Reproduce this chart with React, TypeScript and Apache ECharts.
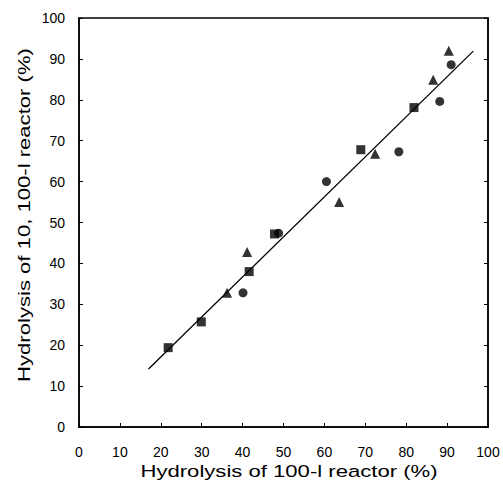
import React, { useEffect, useRef } from "react";
import * as echarts from "echarts";

const squares: number[][] = [
  [21.8, 19.4], [29.9, 25.7], [41.6, 38.0], [47.8, 47.2], [68.9, 67.8], [81.9, 78.1],
];
const triangles: number[][] = [
  [36.2, 32.8], [41.1, 42.8], [63.6, 55.0], [72.4, 66.8], [86.6, 84.9], [90.4, 92.0],
];
const circles: number[][] = [
  [40.1, 32.8], [48.8, 47.4], [60.5, 60.0], [78.2, 67.3], [88.2, 79.6], [91.0, 88.6],
];
const fitLine: number[][] = [
  [17.0, 14.2], [96.4, 91.9],
];
const xTitle = "Hydrolysis of 100-l reactor (%)";
const yTitle = "Hydrolysis of 10, 100-l reactor (%)";

const FONT = "'Liberation Sans', Arial, sans-serif";

export default function App() {
  const ref = useRef<HTMLDivElement>(null);
  useEffect(() => {
    if (!ref.current) return;
    const chart = echarts.init(ref.current, undefined, { renderer: "svg" });
    const axisCommon = {
      type: "value" as const,
      min: 0,
      max: 100,
      interval: 10,
      splitLine: { show: false },
      axisLine: { show: true, lineStyle: { color: "#000", width: 1.5 } },
      axisTick: { show: true, inside: true, length: 4, lineStyle: { color: "#000", width: 1 } },
    };
    chart.setOption({
      animation: false,
      backgroundColor: "#fff",
      grid: { left: 79, right: 15, top: 18, bottom: 54, show: true, borderColor: "#000", borderWidth: 1.5, backgroundColor: "transparent" },
      xAxis: [
        {
          ...axisCommon,
          position: "bottom",
          axisLabel: { color: "#000", fontSize: 14, fontFamily: FONT, margin: 18 },
        },
      ],
      yAxis: [
        {
          ...axisCommon,
          position: "left",
          axisLabel: { color: "#000", fontSize: 14, fontFamily: FONT, margin: 14 },
        },
        {
          ...axisCommon,
          position: "right",
          axisLabel: { show: false },
        },
      ],
      graphic: [
        {
          type: "text",
          x: 289,
          y: 471,
          scaleX: 1.3,
          style: {
            text: xTitle,
            fontSize: 17,
            fontFamily: FONT,
            fill: "#000",
            textAlign: "center",
            textVerticalAlign: "middle",
          },
        },
        {
          type: "text",
          x: 24,
          y: 215,
          rotation: Math.PI / 2,
          scaleX: 1.3,
          style: {
            text: yTitle,
            fontSize: 17,
            fontFamily: FONT,
            fill: "#000",
            textAlign: "center",
            textVerticalAlign: "middle",
          },
        },
      ],
      series: [
        {
          type: "line",
          data: fitLine,
          showSymbol: false,
          symbol: "none",
          lineStyle: { color: "#000", width: 1.3 },
          silent: true,
        },
        {
          type: "scatter",
          data: squares,
          symbol: "rect",
          symbolSize: 9,
          itemStyle: { color: "#000" },
        },
        {
          type: "scatter",
          data: triangles,
          symbol: "triangle",
          symbolSize: 10,
          itemStyle: { color: "#000" },
        },
        {
          type: "scatter",
          data: circles,
          symbol: "circle",
          symbolSize: 9,
          itemStyle: { color: "#000" },
        },
      ],
    });
    return () => chart.dispose();
  }, []);
  return <div ref={ref} style={{ width: 503, height: 481, position: "absolute", left: 0, top: 0 }} />;
}
